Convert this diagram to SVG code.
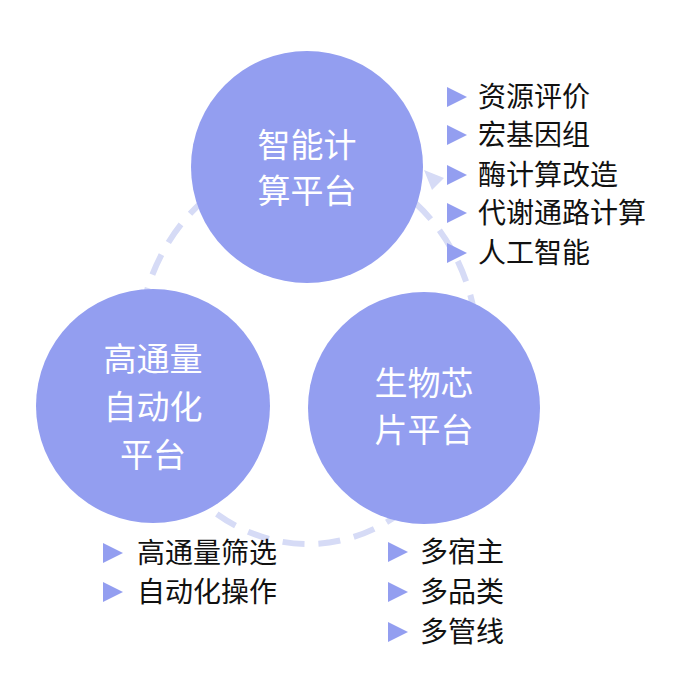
<svg xmlns="http://www.w3.org/2000/svg" width="700" height="681" viewBox="0 0 700 681">
<style>
.n{fill:#939ef0}
.t{font-family:"Noto Sans CJK SC",sans-serif;font-size:33px;fill:#fff;text-anchor:middle}
.l{font-family:"Noto Sans CJK SC",sans-serif;font-size:28px;fill:#111}
.b{fill:#939ef0}
</style>
<rect width="700" height="681" fill="#fff"/>
<g id="connectors">
<ellipse cx="308" cy="352" rx="170" ry="192" fill="none" stroke="#d6dbf6" stroke-width="6" stroke-dasharray="22 14"/>
<polygon points="424,170 444,178 432,190" fill="#d6dbf6"/>
</g>
<g id="top"><circle class="n" cx="307" cy="167" r="116"/><text class="t" x="307" y="157">智能计</text><text class="t" x="307" y="203">算平台</text></g>
<g id="left"><circle class="n" cx="153" cy="406" r="117"/><text class="t" x="153" y="371">高通量</text><text class="t" x="153" y="419">自动化</text><text class="t" x="153" y="467">平台</text></g>
<g id="right"><circle class="n" cx="424" cy="408" r="116"/><text class="t" x="424" y="395">生物芯</text><text class="t" x="424" y="442">片平台</text></g>
<g id="list-top">
<polygon class="b" points="447,87 467,97 447,107"/><text class="l" x="478" y="107">资源评价</text>
<polygon class="b" points="447,125 467,135 447,145"/><text class="l" x="478" y="145">宏基因组</text>
<polygon class="b" points="447,165 467,175 447,185"/><text class="l" x="478" y="185">酶计算改造</text>
<polygon class="b" points="447,203 467,213 447,223"/><text class="l" x="478" y="223">代谢通路计算</text>
<polygon class="b" points="447,243 467,253 447,263"/><text class="l" x="478" y="263">人工智能</text>
</g>
<g id="list-left">
<polygon class="b" points="103,543 123,553 103,563"/><text class="l" x="137" y="563">高通量筛选</text>
<polygon class="b" points="103,582 123,592 103,602"/><text class="l" x="137" y="602">自动化操作</text>
</g>
<g id="list-right">
<polygon class="b" points="388,542 408,552 388,562"/><text class="l" x="420" y="562">多宿主</text>
<polygon class="b" points="388,582 408,592 388,602"/><text class="l" x="420" y="602">多品类</text>
<polygon class="b" points="388,622 408,632 388,642"/><text class="l" x="420" y="642">多管线</text>
</g>
</svg>
